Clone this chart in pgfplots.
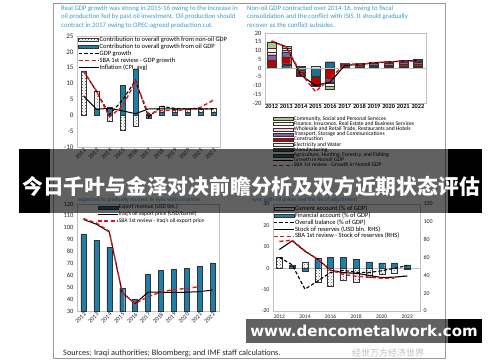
\documentclass[border=0pt]{standalone}
\usepackage{pgfplots}
\pgfplotsset{compat=1.18}
\usepackage{fontspec}
\setmainfont{Carlito}
\newfontfamily\cjk{Noto Sans CJK SC}
\newfontfamily\dvs{DejaVu Sans}
\usetikzlibrary{patterns}
\definecolor{ttl}{HTML}{3A9CC6}
\definecolor{bblue}{HTML}{1F7FA6}
\definecolor{sred}{HTML}{E5141B}
\definecolor{kgreen}{HTML}{A6C98A}
\definecolor{tpurple}{HTML}{8064A2}
\definecolor{cred}{HTML}{C00000}
\definecolor{elight}{HTML}{EEF3E2}
\definecolor{agri}{HTML}{256F8A}
\definecolor{frame}{HTML}{BFBFBF}
\pgfplotsset{
  barleg/.style={legend image code/.code={\draw[##1] (0pt,-1.5pt) rectangle (20pt,1.5pt);}},
  lineleg/.style={legend image code/.code={\draw[##1] (0pt,0pt) -- (20pt,0pt);}},
  base/.style={scale only axis, anchor=south west, axis line style={draw=frame, line width=0.5pt},
    major tick length=0pt, /pgf/number format/assume math mode=true, /pgf/number format/1000 sep={},
    tick label style={text=black!85}, legend cell align=left},
  leg/.style n args={4}{legend style={draw=none, fill=none, inner sep=0pt, font=\fontsize{#1}{#1}\selectfont,
    row sep=#4, nodes={inner sep=0.4pt, text height=#2, text depth=#3}}},
  bdash/.style={black, line width=1.1pt, dash pattern=on 3.5pt off 2pt},
  rdash/.style={sred, line width=1.4pt, dash pattern=on 4pt off 2.5pt},
  bsolid/.style={black, line width=1pt},
  hatch/.style={pattern=crosshatch dots, pattern color=black!65, draw=black!80, line width=0.3pt},
  bluebar/.style={fill=bblue, draw=black!80, line width=0.3pt},
  sec/.style={draw=black!80, line width=0.3pt},
}
\begin{document}
\begin{tikzpicture}
\path[fill=white, use as bounding box] (0,0) rectangle (500pt,362pt);
\draw[black!40, line width=0.7pt] (53pt,4pt) rectangle (445pt,358.7pt);

% ---------- Chart 1 ----------
\node[anchor=north west, inner sep=0, align=left, text=ttl, font=\fontsize{6.8}{8.3}\selectfont] at (61pt,356.5pt)
 {Real GDP growth was strong in 2015-16 owing to the increase in\\oil production fed by past oil investment. Oil production should\\contract in 2017 owing to OPEC-agreed production cut.};
\begin{axis}[base, at={(77pt,215pt)}, width=143pt, height=111pt,
  xmin=2011.5, xmax=2022.5, ymin=-10, ymax=25,
  xtick={2012,...,2022}, ytick={-10,-5,...,25},
  x tick label style={rotate=45, anchor=north east, font=\fontsize{6}{6}\selectfont, inner sep=0.5pt},
  y tick label style={font=\fontsize{7}{8}\selectfont},
  leg={6.5}{4.6pt}{1.3pt}{0.2pt}, legend style={at={(0.005,0.997)}, anchor=north west}]
\addplot[ybar, bar width=5pt, bar shift=0pt, hatch, barleg] coordinates
 {(2012,13.9)(2013,7.6)(2014,-2)(2015,-4.6)(2016,-3.3)(2017,0.5)(2018,3)(2019,2)(2020,2)(2021,2)(2022,2.2)};
\addlegendentry{Contribution to overall growth from non-oil GDP}
\addplot[ybar, bar width=5pt, bar shift=0pt, bluebar, barleg] coordinates
 {(2012,0)(2013,2)(2014,2.5)(2015,9.5)(2016,14.5)(2017,-1)(2018,1)(2019,1)(2020,1)(2021,1)(2022,1)};
\addlegendentry{Contribution to overall growth from oil GDP}
\addplot[bdash, lineleg] coordinates
 {(2012,13.9)(2013,7.6)(2014,0.2)(2015,4.8)(2016,11)(2017,-0.5)(2018,2.8)(2019,2.2)(2020,2)(2021,2)(2022,2)};
\addlegendentry{GDP growth}
\addplot[rdash, lineleg] coordinates
 {(2012,14)(2013,7.6)(2014,-0.5)(2015,2.8)(2016,10.6)(2017,0.5)(2018,1.5)(2019,1.5)(2020,1.8)(2021,2.5)(2022,4.8)};
\addlegendentry{SBA 1st review - GDP growth}
\addplot[bsolid, lineleg] coordinates
 {(2012,6.1)(2013,1.9)(2014,2.2)(2015,1.4)(2016,0.5)(2017,2)(2018,2)(2019,2)(2020,2)(2021,2)(2022,2)};
\addlegendentry{Inflation (CPI, avg)}
\end{axis}

% ---------- Chart 2 ----------
\node[anchor=north west, inner sep=0, align=left, text=ttl, font=\fontsize{6.8}{8.3}\selectfont] at (247pt,356.5pt)
 {Non-oil GDP contracted over 2014-16, owing to fiscal\\consolidation and the conflict with ISIS. It should gradually\\recover as the conflict subsides.};
\begin{axis}[base, at={(265pt,259pt)}, width=161pt, height=70pt,
  xmin=2011.55, xmax=2022.55, ymin=-20, ymax=20,
  xtick={2012,...,2022}, ytick={-20,-15,...,20},
  x tick label style={font=\bfseries\fontsize{6.3}{6.3}\selectfont, text=black, anchor=north, text height=4.5pt, text depth=0.5pt, inner sep=1pt},
  y tick label style={font=\fontsize{6.5}{7}\selectfont},
  ybar stacked, bar width=9pt, reverse legend,
  leg={5.6}{3.6pt}{1pt}{0pt}, legend style={at={(0.043,-0.185)}, anchor=north west, nodes={inner sep=0.3pt}}]
\addlegendimage{rdash, lineleg}
\addlegendentry{SBA 1st review - Growth in Nonoil GDP}
\addlegendimage{bsolid, lineleg}
\addlegendentry{Growth in Nonoil GDP}
\addplot[sec, fill=agri, barleg] coordinates
 {(2012,0.3)(2013,1.5)(2014,0)(2015,0)(2016,3.6)(2017,0.2)(2018,0.2)(2019,0.3)(2020,0.3)(2021,0.4)(2022,0.4)};
\addlegendentry{Agriculture, Hunting, Forestry, and Fishing}
\addplot[sec, fill=black!65, barleg] coordinates
 {(2012,0.3)(2013,0.5)(2014,0)(2015,0)(2016,0)(2017,0.3)(2018,0.3)(2019,0.4)(2020,0.4)(2021,0.5)(2022,0.5)};
\addlegendentry{Manufacturing}
\addplot[sec, fill=elight, barleg] coordinates
 {(2012,0.4)(2013,0.3)(2014,0.5)(2015,0.8)(2016,0)(2017,0.2)(2018,0.2)(2019,0.2)(2020,0.3)(2021,0.3)(2022,0.3)};
\addlegendentry{Electricity and Water}
\addplot[sec, fill=cred, barleg] coordinates
 {(2012,3.6)(2013,4)(2014,0)(2015,0)(2016,0)(2017,0.6)(2018,0.6)(2019,0.8)(2020,0.9)(2021,1)(2022,1.1)};
\addlegendentry{Construction}
\addplot[sec, fill=tpurple, barleg] coordinates
 {(2012,3)(2013,3)(2014,0)(2015,0)(2016,0)(2017,0.5)(2018,0.6)(2019,0.8)(2020,0.9)(2021,1)(2022,1.1)};
\addlegendentry{Transport, Storage and Communications}
\addplot[sec, fill=pink!70, barleg] coordinates
 {(2012,1.6)(2013,1)(2014,0)(2015,0)(2016,0)(2017,0.3)(2018,0.3)(2019,0.4)(2020,0.5)(2021,0.5)(2022,0.6)};
\addlegendentry{Wholesale and Retail Trade, Restaurants and Hotels}
\addplot[sec, fill=pink!25, barleg] coordinates
 {(2012,2.3)(2013,1)(2014,0)(2015,0)(2016,0)(2017,0.2)(2018,0.2)(2019,0.3)(2020,0.3)(2021,0.3)(2022,0.4)};
\addlegendentry{Finance, Insurance, Real Estate and Business Services}
\addplot[sec, fill=kgreen, barleg] coordinates
 {(2012,3.5)(2013,1.2)(2014,0.4)(2015,0.3)(2016,0)(2017,0.3)(2018,0.2)(2019,0.3)(2020,0.3)(2021,0.4)(2022,0.4)};
\addlegendentry{Community, Social and Personal Services}
\end{axis}
\begin{axis}[base, hide axis, at={(265pt,259pt)}, width=161pt, height=70pt,
  xmin=2011.55, xmax=2022.55, ymin=-20, ymax=20, ybar stacked, bar width=9pt]
\addplot[sec, fill=agri] coordinates
 {(2012,0)(2013,0)(2014,-1.2)(2015,-4.5)(2016,0)(2017,0)(2018,0)(2019,0)(2020,0)(2021,0)(2022,0)};
\addplot[sec, fill=black!65] coordinates
 {(2012,0)(2013,0)(2014,-1.3)(2015,-1)(2016,-0.4)(2017,0)(2018,0)(2019,0)(2020,0)(2021,0)(2022,0)};
\addplot[sec, fill=elight] coordinates
 {(2012,0)(2013,0)(2014,0)(2015,0)(2016,-0.2)(2017,0)(2018,0)(2019,0)(2020,0)(2021,0)(2022,0)};
\addplot[sec, fill=cred] coordinates
 {(2012,0)(2013,0)(2014,-1.2)(2015,-4.2)(2016,-5)(2017,0)(2018,0)(2019,0)(2020,0)(2021,0)(2022,0)};
\addplot[sec, fill=tpurple] coordinates
 {(2012,0)(2013,0)(2014,-0.5)(2015,-0.3)(2016,-2.5)(2017,0)(2018,0)(2019,0)(2020,0)(2021,0)(2022,0)};
\addplot[sec, fill=pink!70] coordinates
 {(2012,0)(2013,0)(2014,-0.4)(2015,-0.2)(2016,-0.8)(2017,0)(2018,0)(2019,0)(2020,0)(2021,0)(2022,0)};
\addplot[sec, fill=pink!25] coordinates
 {(2012,0)(2013,0)(2014,-0.2)(2015,0)(2016,-1.5)(2017,0)(2018,0)(2019,0)(2020,0)(2021,0)(2022,0)};
\addplot[sec, fill=kgreen] coordinates
 {(2012,0)(2013,0)(2014,0)(2015,0)(2016,-1.6)(2017,0)(2018,0)(2019,0)(2020,0)(2021,0)(2022,0)};
\end{axis}
\begin{axis}[base, hide axis, at={(265pt,259pt)}, width=161pt, height=70pt,
  xmin=2011.55, xmax=2022.55, ymin=-20, ymax=20]
\addplot[frame, line width=0.5pt] coordinates {(2011.55,0)(2022.55,0)};
\addplot[bsolid, line width=1.1pt] coordinates
 {(2012,15.2)(2013,12.2)(2014,-4)(2015,-10)(2016,-8)(2017,1.5)(2018,2)(2019,3)(2020,3.5)(2021,4)(2022,4.4)};
\addplot[rdash] coordinates
 {(2012,15.5)(2013,12)(2014,-3)(2015,-13.5)(2016,-6)(2017,2.5)(2018,2)(2019,3)(2020,3.5)(2021,3.8)(2022,4.1)};
\end{axis}

% ---------- Chart 3 ----------
\node[anchor=base west, inner sep=0, text=ttl, font=\fontsize{5.8}{7}\selectfont] at (78pt,161pt)
 {expected to gradually recover, in sync with oil prices.};
\begin{axis}[base, at={(77pt,51pt)}, width=142pt, height=107pt,
  xmin=2011.5, xmax=2022.5, ymin=30, ymax=120,
  xtick={2012,...,2022}, ytick={30,40,...,120},
  x tick label style={rotate=45, anchor=north east, font=\fontsize{6}{6}\selectfont, inner sep=0.5pt},
  y tick label style={font=\fontsize{6.5}{7}\selectfont},
  leg={5.6}{4pt}{1.2pt}{0.8pt}, legend style={at={(0.14,0.997)}, anchor=north west}]
\addplot[ybar, bar width=5pt, bar shift=0pt, bluebar, barleg] coordinates
 {(2012,94.9)(2013,89.6)(2014,83.7)(2015,49.3)(2016,39.8)(2017,60.8)(2018,64.4)(2019,65)(2020,65.8)(2021,67.8)(2022,70.5)};
\addlegendentry{Export revenue (USD bln.)}
\addplot[bsolid, lineleg] coordinates
 {(2012,107)(2013,103)(2014,96.5)(2015,45.5)(2016,36.2)(2017,45.8)(2018,45.8)(2019,45.6)(2020,45.8)(2021,46.3)(2022,47.6)};
\addlegendentry{Iraq's oil export price (USD/barrel)}
\addplot[rdash, lineleg] coordinates
 {(2012,107.7)(2013,104)(2014,97)(2015,45.5)(2016,36.2)(2017,42)(2018,46)(2019,48)(2020,49)(2021,50.5)};
\addlegendentry{SBA 1st review - Iraq's oil export price}
\end{axis}
\node[anchor=base west, inner sep=0, text=black!85, font=\fontsize{8.3}{9}\selectfont] at (63pt,6.5pt)
 {Sources: Iraqi authorities; Bloomberg; and IMF staff calculations.};

% ---------- Chart 4 ----------
\node[anchor=base west, inner sep=0, text=ttl, font=\fontsize{5.8}{7}\selectfont] at (252pt,161pt)
 {sync with oil prices and the fiscal adjustment.};
\begin{axis}[base, at={(273pt,51pt)}, width=147pt, height=107pt,
  xmin=2011.5, xmax=2023, ymin=-20, ymax=30,
  xtick={2012,2014,...,2022}, ytick={-20,-10,...,30},
  x tick label style={font=\fontsize{5.5}{6}\selectfont},
  y tick label style={font=\fontsize{6}{7}\selectfont}]
\addplot[frame, line width=0.5pt] coordinates {(2011.5,0)(2023,0)};
\addplot[ybar, bar width=6pt, bar shift=0pt, hatch] coordinates
 {(2012,5)(2013,1.5)(2014,2.6)(2015,-6.5)(2016,-8.5)(2017,-5.5)(2018,-6.5)(2019,-4.2)(2020,-3)(2021,-2.2)(2022,-0.5)};
\addplot[ybar, bar width=6pt, bar shift=0pt, bluebar] coordinates
 {(2012,0)(2013,0.8)(2014,-1.2)(2015,4.5)(2016,5.2)(2017,5)(2018,4)(2019,3)(2020,2.5)(2021,2.5)(2022,1.5)};
\addplot[bdash] coordinates
 {(2012,5)(2013,1.6)(2014,-9.8)(2015,-6)(2016,-2)(2017,-1)(2018,-1.9)(2019,-2)(2020,-1.2)(2021,0)(2022,1.2)};
\end{axis}
\begin{axis}[base, at={(273pt,51pt)}, width=147pt, height=107pt,
  xmin=2011.5, xmax=2023, ymin=0, ymax=120, ytick={0,20,...,120},
  axis y line*=right, axis x line=none, axis line style={draw=none},
  y tick label style={font=\fontsize{6}{7}\selectfont},
  leg={6.5}{4.5pt}{1.3pt}{0.2pt}, legend style={at={(0.0,0.985)}, anchor=north west}]
\addlegendimage{hatch, barleg}
\addlegendentry{Current account (\% of GDP)}
\addlegendimage{bluebar, barleg}
\addlegendentry{Financial account (\% of GDP)}
\addlegendimage{bdash, lineleg}
\addlegendentry{Overall balance (\% of GDP)}
\addplot[bsolid, line width=1.1pt, lineleg] coordinates
 {(2012,69)(2013,78.7)(2014,67)(2015,58)(2016,45.7)(2017,43)(2018,42.3)(2019,40)(2020,37.5)(2021,38)(2022,39.3)};
\addlegendentry{Stock of reserves (USD bln. RHS)}
\addplot[rdash, lineleg] coordinates
 {(2012,78)(2013,79.4)(2014,67.5)(2015,58)(2016,46)(2017,41)(2018,39)(2019,38)(2020,36.7)(2021,36.7)};
\addlegendentry{SBA 1st review - Stock of reserves (RHS)}
\end{axis}

% faint watermark
\node[anchor=base west, inner sep=0, text=black!25, font=\fontsize{9}{10}\selectfont] at (352pt,6pt) {\cjk 经世万方经济世界};

% ---------- banner overlays ----------
\fill[black, opacity=0.62] (50pt,149pt) rectangle (448pt,213pt);
\fill[black] (19pt,149pt) rectangle (50pt,213pt);
\fill[black] (448pt,149pt) rectangle (482pt,213pt);
\node[text=white, inner sep=0, font=\fontsize{20.8}{22}\selectfont] at (251pt,176pt) {\cjk\bfseries 今日千叶与金泽对决前瞻分析及双方近期状态评估};

\fill[black, opacity=0.62] (246pt,19pt) rectangle (448pt,43pt);
\fill[black] (448pt,19pt) rectangle (482pt,43pt);
\node[text=white, inner sep=0, font=\fontsize{15}{16}\selectfont] at (364pt,31pt) {\dvs\bfseries www.dencometalwork.com};
\end{tikzpicture}
\end{document}
